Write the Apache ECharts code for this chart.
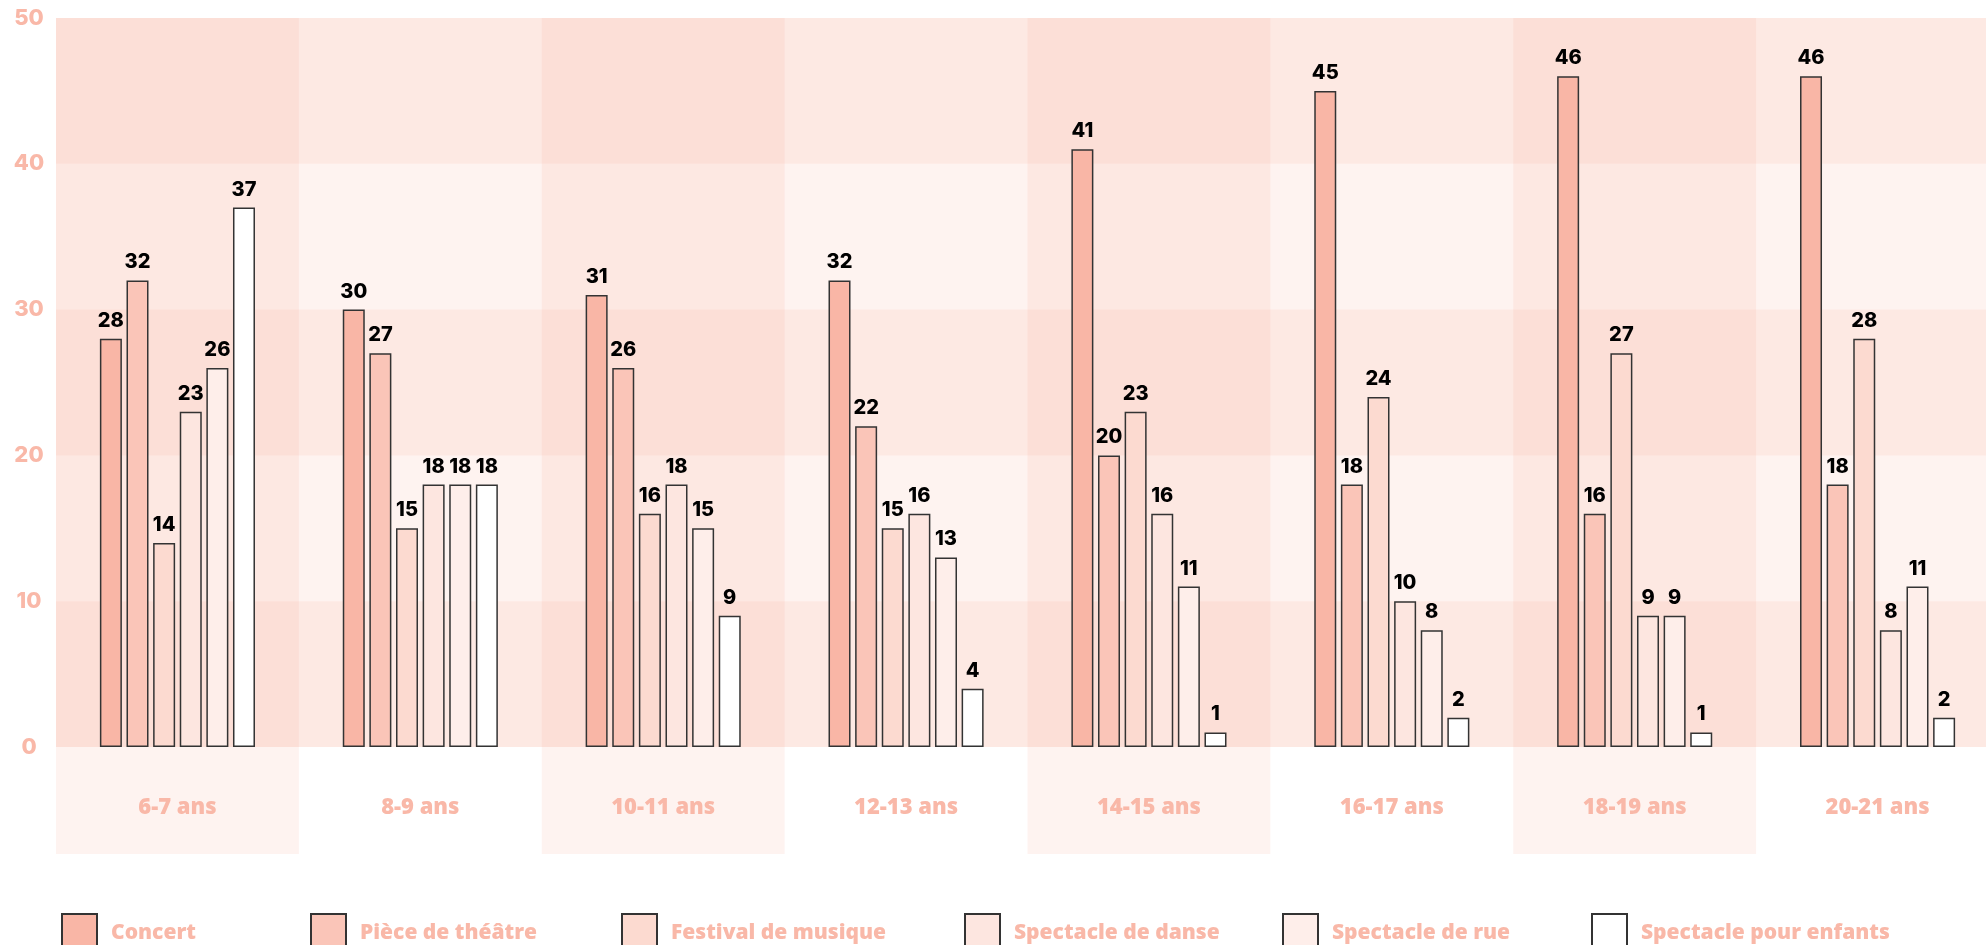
<!DOCTYPE html>
<html>
<head>
<meta charset="utf-8">
<script src="https://cdn.jsdelivr.net/npm/echarts@6/dist/echarts.min.js"></script>
<style>
  html, body { margin: 0; padding: 0; background: #fff; }
  #chart { width: 1986px; height: 945px; }
</style>
</head>
<body>
<div id="chart"></div>
<script>
// age groups
const categories = ['6-7 ans', '8-9 ans', '10-11 ans', '12-13 ans', '14-15 ans', '16-17 ans', '18-19 ans', '20-21 ans']
const seriesNames = ['Concert', 'Pièce de théâtre', 'Festival de musique', 'Spectacle de danse', 'Spectacle de rue', 'Spectacle pour enfants']

const concert = [28, 30, 31, 32, 41, 45, 46, 46]
const theatre = [32, 27, 26, 22, 20, 18, 16, 18]
const festival = [14, 15, 16, 15, 23, 24, 27, 28]
const danse = [23, 18, 18, 16, 16, 10, 9, 8]
const rue = [26, 18, 15, 13, 11, 8, 9, 11]
const enfants = [37, 18, 9, 4, 1, 2, 1, 2]

const values = [concert, theatre, festival, danse, rue, enfants]
const colors = ['#F9B6A6', '#FAC5B8', '#FCDAD0', '#FDE6E0', '#FEEEEA', '#FFFFFF']
const legendLeft = [56, 305, 616, 959, 1277, 1586]

const salmon = '#F9B8A8'
const tint = 'rgba(247,155,130,0.12)'
const tint2 = 'rgba(247,155,130,0.225)'
const font = '"Open Sans", Lato, sans-serif'
const numFont = 'Inter, "Open Sans", sans-serif'

const chart = echarts.init(document.getElementById('chart'))

const option = {
  backgroundColor: '#fff',
  animation: false,
  grid: [
    { left: 56, width: 1943, top: 18, height: 729, outerBoundsMode: 'none' },
    { left: 56, width: 1943, top: 747, height: 107, outerBoundsMode: 'none' }
  ],
  legend: seriesNames.map((n, i) => ({
    data: [n],
    left: legendLeft[i],
    top: 908,
    itemWidth: 35,
    itemHeight: 38,
    icon: 'rect',
    itemStyle: { borderColor: '#333', borderWidth: 2 },
    textStyle: {
      color: salmon,
      fontFamily: font,
      fontWeight: 800,
      fontSize: 21,
      padding: [0, 0, 0, 9]
    }
  })),
  xAxis: [
    {
      type: 'category',
      gridIndex: 0,
      data: categories,
      axisLine: { show: false },
      axisTick: { show: false },
      axisLabel: { show: false },
      splitArea: { show: true, areaStyle: { color: [tint, 'rgba(0,0,0,0)'] } }
    },
    {
      type: 'category',
      gridIndex: 1,
      data: categories,
      position: 'top',
      axisLine: { show: false },
      axisTick: { show: false },
      axisLabel: {
        inside: true,
        margin: 61,
        verticalAlign: 'middle',
        color: salmon,
        fontFamily: font,
        fontWeight: 800,
        fontSize: 22
      },
      splitArea: { show: true, areaStyle: { color: [tint, 'rgba(0,0,0,0)'] } }
    }
  ],
  yAxis: [
    {
      type: 'value',
      gridIndex: 0,
      min: 0,
      max: 50,
      interval: 10,
      axisLine: { show: false },
      axisTick: { show: false },
      splitLine: { show: false },
      splitArea: { show: true, areaStyle: { color: [tint2, tint] } },
      axisLabel: {
        margin: 27,
        align: 'center',
        color: salmon,
        fontFamily: numFont,
        fontWeight: 800,
        fontSize: 22
      }
    },
    {
      type: 'value',
      gridIndex: 1,
      show: false
    }
  ],
  series: seriesNames.map((n, i) => ({
    name: n,
    type: 'bar',
    xAxisIndex: 0,
    yAxisIndex: 0,
    data: values[i],
    barWidth: 22,
    barGap: '21%',
    itemStyle: { color: colors[i], borderColor: '#333', borderWidth: 1.5 },
    label: {
      show: true,
      position: 'top',
      distance: 8,
      color: '#000',
      fontFamily: numFont,
      fontWeight: 800,
      fontSize: 20
    }
  }))
}

chart.setOption(option)
</script>
</body>
</html>
